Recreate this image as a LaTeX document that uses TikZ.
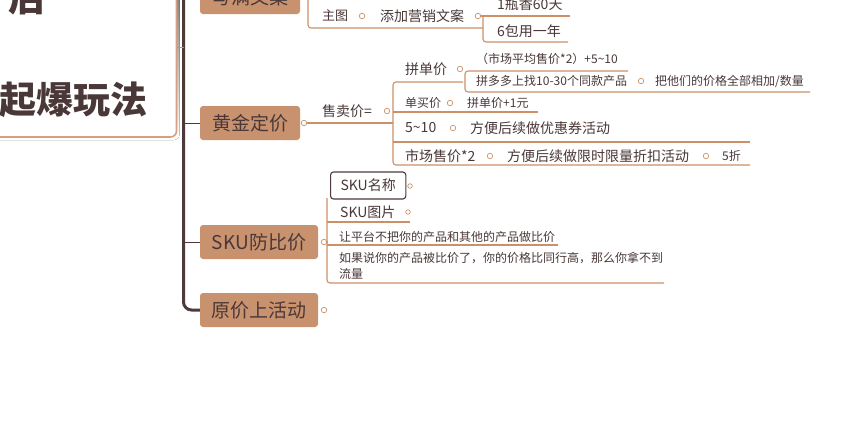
\documentclass[tikz,border=0pt]{standalone}
\usepackage{fontspec}
\setmainfont{Noto Sans CJK SC}
\usepackage{xcolor}
\usepackage{tikz}
\usetikzlibrary{positioning,calc}
\definecolor{ink}{HTML}{4A3838}
\definecolor{trunk}{HTML}{4E3A3A}
\definecolor{topic}{HTML}{C9926F}
\definecolor{lnc}{HTML}{CB9068}
\definecolor{shade}{HTML}{E4E0E0}
\newcommand\fsz[1]{\fontsize{#1}{#1}\selectfont}

\begin{document}
\begin{tikzpicture}[x=1pt,y=-1pt,
  topic/.style={fill=topic,rounded corners=3pt,minimum height=34pt,text=ink,font=\fsz{19},inner sep=0pt},
  sub/.style={anchor=west,inner sep=0pt,text=ink,font=\fsz{14}},
  note/.style={sub,font=\fsz{12}},
  knob/.style={circle,draw=lnc,fill=white,line width=0.7pt,minimum size=5.5pt,inner sep=0pt},
  ln/.style={draw=lnc,line width=1.1pt,rounded corners=3pt}]
  \clip (0,0) rectangle (854,440);
  \fill[white] (0,0) rectangle (854,440);
  % root
  \fill[shade,rounded corners=6pt] (-10,-10) rectangle (179.5,140);
  \draw[lnc!85,fill=white,line width=1.6pt,rounded corners=6pt] (-10,-10) rectangle (176.5,137);
  \node[anchor=east,inner sep=0pt,text=ink,font=\fsz{37}\bfseries] (roottop) at (46,-3) {后};
  \node[anchor=east,inner sep=0pt,text=ink,font=\fsz{37}\bfseries] (root) at (148,100) {起爆玩法};
  % main topics
  \node[topic,minimum width=100pt] (copy) at (250,-3) {写满文案};
  \node[topic,minimum width=100pt] (gold) at (250,123) {黄金定价};
  \node[topic,minimum width=118pt] (sku) at (259,242) {SKU防比价};
  \node[topic,minimum width=118pt] (src) at (259,310) {原价上活动};
  \node[knob] (gk) at (304,123) {};
  \node[knob] (sk) at (324,242) {};
  \node[knob] (yk) at (324,310) {};
  % trunk
  \coordinate (t0) at (183.5,0);
  \coordinate (r0) at (177,47);
  \draw[trunk,line width=3pt,rounded corners=8pt] (t0) |- (src.west);
  \draw[trunk,line width=1pt] (gold.west -| t0) -- (gold.west);
  \draw[trunk,line width=1pt] (sku.west -| t0) -- (sku.west);
  \draw[lnc,line width=1pt] (r0) -- (r0 -| t0);

  % 写满文案
  \node[sub,font=\fsz{13}] (main) at (322,16) {主图};
  \node[knob] (mk) at (362,16) {};
  \node[sub] (addc) at (380,16) {添加营销文案};
  \node[knob] (ak) at (478,16) {};
  \node[sub] (bottle) at (497,4) {1瓶香60天};
  \node[sub] (pack) at (497,31) {6包用一年};
  \coordinate (c0) at (308,0);
  \coordinate (c1) at (483,28);
  \coordinate (c2) at (570,16);
  \coordinate (c3) at (568,42);
  \draw[ln] (c0) |- (c1);
  \draw[ln] (ak.east) -- (c2);
  \draw[ln] (ak.east -| c1) |- (c3);

  % 黄金定价
  \node[sub] (sell) at (322,111) {售卖价=};
  \node[knob] (sellk) at (387,111) {};
  \coordinate (g0) at (393,82);
  \coordinate (g1) at (393,165);
  \coordinate (u1) at (463,82);
  \coordinate (u2) at (538,112);
  \coordinate (u3) at (750,142);
  \coordinate (u4) at (750,165);
  \draw[ln] (gk.east) -- (gk.east -| g0);
  \draw[ln] (u1) -- (g0) -- (g1) -- (u4);
  \draw[ln] (u2 -| g0) -- (u2);
  \draw[ln] (u3 -| g0) -- (u3);
  % 拼单价
  \node[sub] (pin) at (405,69) {拼单价};
  \node[knob] (pink) at (460,69) {};
  \node[note] (avg) at (476,59) {（市场平均售价*2）+5\textasciitilde10};
  \node[note] (find) at (476,81) {拼多多上找10-30个同款产品};
  \node[knob] (findk) at (641,81) {};
  \node[note] (sum) at (655,81) {把他们的价格全部相加/数量};
  \coordinate (p0) at (465,71);
  \coordinate (p1) at (628,71);
  \coordinate (p2) at (810,92);
  \draw[ln] (p1) -- (p0) |- (p2);
  % 单买价
  \node[note] (solo) at (405,103) {单买价};
  \node[knob] (solok) at (450,103) {};
  \node[note] (plus) at (467,103) {拼单价+1元};
  % 5~10
  \node[sub] (range) at (405,128) {5\textasciitilde10};
  \node[knob] (rangek) at (453,128) {};
  \node[sub] (coupon) at (470,128) {方便后续做优惠券活动};
  % 市场售价*2
  \node[sub] (mkt) at (405,156) {市场售价*2};
  \node[knob] (mktk) at (490,156) {};
  \node[sub] (flash) at (507,156) {方便后续做限时限量折扣活动};
  \node[knob] (flashk) at (706,156) {};
  \node[note] (half) at (722,156) {5折};

  % SKU防比价
  \coordinate (s0) at (327,198);
  \coordinate (s1) at (664,283);
  \coordinate (s2) at (410,222);
  \coordinate (s3) at (558,245);
  \draw[ln] (sk.east) -- (sk.east -| s0);
  \draw[ln] (s0) |- (s1);
  \draw[ln] (s2 -| s0) -- (s2);
  \draw[ln] (s3 -| s0) -- (s3);
  \node[sub,draw=trunk,line width=1.1pt,rounded corners=3pt,inner xsep=10pt,minimum height=27pt] (name) at (330,185.5) {SKU名称};
  \node[knob,minimum size=4.5pt] (namek) at (410,186) {};
  \node[sub] (pic) at (340,212) {SKU图片};
  \node[knob,minimum size=4.5pt] (pick) at (408,212) {};
  \node[note] (why) at (339,237) {让平台不把你的产品和其他的产品做比价};
  \node[note,align=left,font=\fontsize{12}{16}\selectfont] (risk) at (339,266) {如果说你的产品被比价了，你的价格比同行高，那么你拿不到\\流量};
\end{tikzpicture}
\end{document}
